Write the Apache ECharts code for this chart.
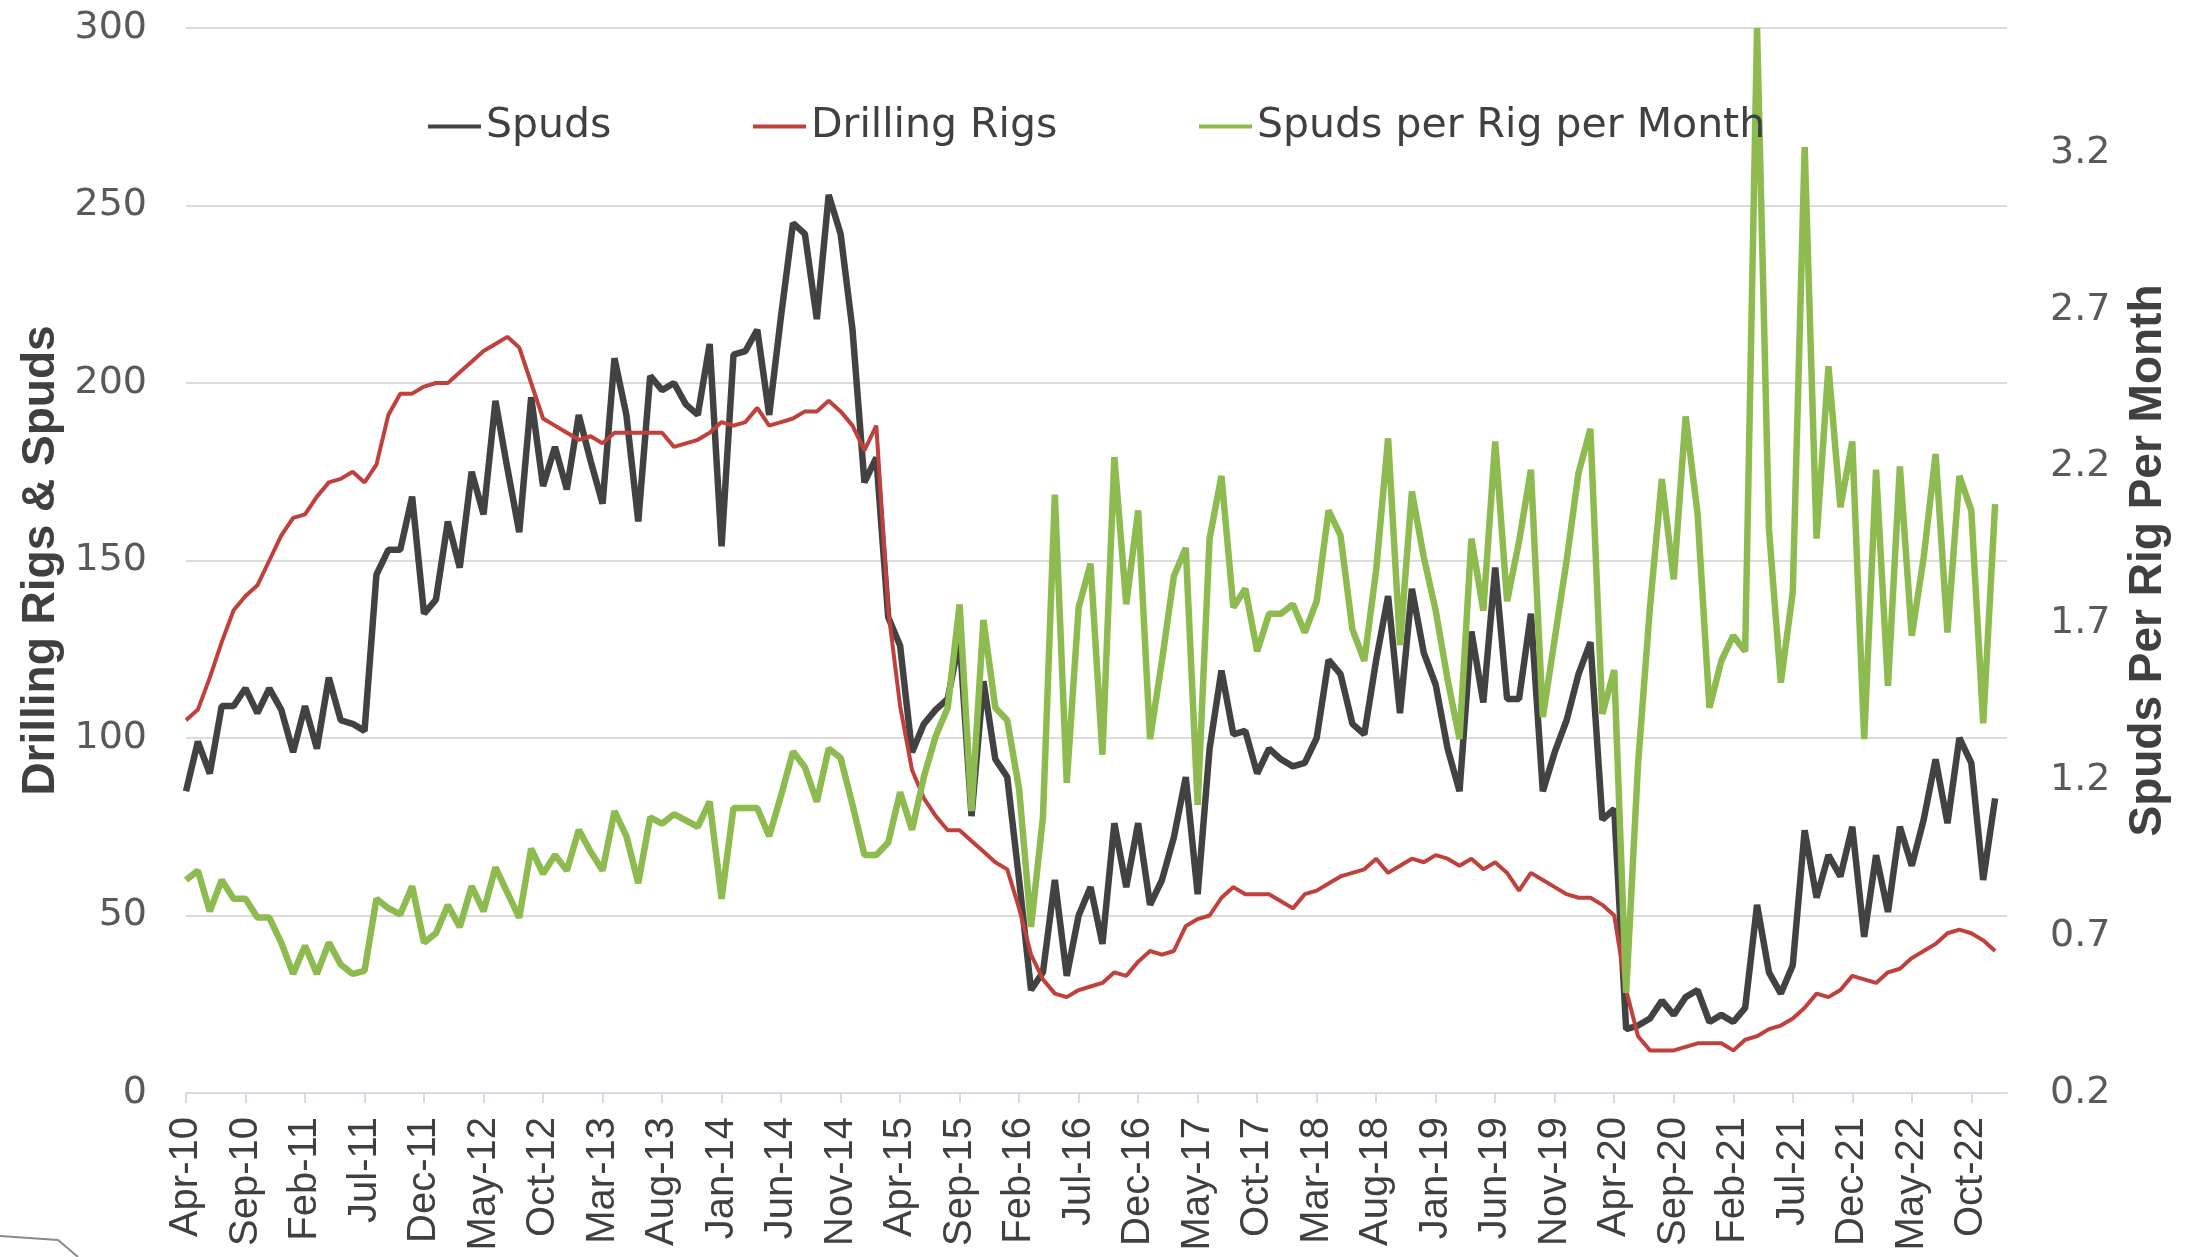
<!DOCTYPE html>
<html>
<head>
<meta charset="utf-8">
<script src="https://cdn.jsdelivr.net/npm/echarts@6/dist/echarts.min.js"></script>
<style>
  html, body { margin: 0; padding: 0; background: #fff; }
  #chart { width: 2198px; height: 1257px; }
</style>
</head>
<body>
<div id="chart"></div>
<script>
  // monthly labels, Apr-10 .. Jan-23 (Jan-23 has no data)
  const monthNames = ['Jan', 'Feb', 'Mar', 'Apr', 'May', 'Jun', 'Jul', 'Aug', 'Sep', 'Oct', 'Nov', 'Dec'];
  const categories = [];
  for (let y = 2010; y <= 2023; y++) {
    for (let m = 0; m < 12; m++) {
      if (y === 2010 && m < 3) continue;
      if (y === 2023 && m > 0) continue;
      categories.push(monthNames[m] + '-' + String(y).slice(2));
    }
  }

  const spuds = [
    85, 99, 90, 109, 109, 114, 107, 114, 108, 96,
    109, 97, 117, 105, 104, 102, 146, 153, 153, 168,
    135, 139, 161, 148, 175, 163, 195, 176, 158, 196,
    171, 182, 170, 191, 178, 166, 207, 191, 161, 202,
    198, 200, 194, 191, 211, 154, 208, 209, 215, 191,
    219, 245, 242, 218, 253, 242, 215, 172, 179, 134,
    126, 96, 104, 108, 111, 128, 78, 116, 94, 89,
    60, 29, 34, 60, 33, 50, 58, 42, 76, 58,
    76, 53, 60, 72, 89, 56, 97, 119, 101, 102,
    90, 97, 94, 92, 93, 100, 122, 118, 104, 101,
    122, 140, 107, 142, 124, 115, 97, 85, 130, 110,
    148, 111, 111, 135, 85, 96, 105, 118, 127, 77,
    80, 18, 19, 21, 26, 22, 27, 29, 20, 22,
    20, 24, 53, 34, 28, 36, 74, 55, 67, 61,
    75, 44, 67, 51, 75, 64, 77, 94, 76, 100,
    93, 60, 83, null
  ];

  const rigs = [
    105, 108, 117, 127, 136, 140, 143, 150, 157, 162,
    163, 168, 172, 173, 175, 172, 177, 191, 197, 197,
    199, 200, 200, 203, 206, 209, 211, 213, 210, 200,
    190, 188, 186, 184, 185, 183, 186, 186, 186, 186,
    186, 182, 183, 184, 186, 189, 188, 189, 193, 188,
    189, 190, 192, 192, 195, 192, 188, 181, 188, 136,
    109, 91, 83, 78, 74, 74, 71, 68, 65, 63,
    52, 39, 32, 28, 27, 29, 30, 31, 34, 33,
    37, 40, 39, 40, 47, 49, 50, 55, 58, 56,
    56, 56, 54, 52, 56, 57, 59, 61, 62, 63,
    66, 62, 64, 66, 65, 67, 66, 64, 66, 63,
    65, 62, 57, 62, 60, 58, 56, 55, 55, 53,
    50, 29, 16, 12, 12, 12, 13, 14, 14, 14,
    12, 15, 16, 18, 19, 21, 24, 28, 27, 29,
    33, 32, 31, 34, 35, 38, 40, 42, 45, 46,
    45, 43, 40, null
  ];

  const spudsPerRig = [
    0.88, 0.91, 0.78, 0.88, 0.82, 0.82, 0.76, 0.76, 0.68, 0.58,
    0.67, 0.58, 0.68, 0.61, 0.58, 0.59, 0.82, 0.79, 0.77, 0.86,
    0.68, 0.71, 0.80, 0.73, 0.86, 0.78, 0.92, 0.84, 0.76, 0.98,
    0.90, 0.96, 0.91, 1.04, 0.97, 0.91, 1.10, 1.02, 0.87, 1.08,
    1.06, 1.09, 1.07, 1.05, 1.13, 0.82, 1.11, 1.11, 1.11, 1.02,
    1.15, 1.29, 1.24, 1.13, 1.30, 1.27, 1.12, 0.96, 0.96, 1.00,
    1.16, 1.04, 1.21, 1.34, 1.43, 1.76, 1.10, 1.71, 1.43, 1.39,
    1.17, 0.73, 1.08, 2.11, 1.19, 1.75, 1.89, 1.28, 2.23, 1.76,
    2.06, 1.33, 1.58, 1.85, 1.94, 1.12, 1.97, 2.17, 1.75, 1.81,
    1.61, 1.73, 1.73, 1.76, 1.67, 1.77, 2.06, 1.98, 1.68, 1.58,
    1.87, 2.29, 1.63, 2.12, 1.91, 1.74, 1.52, 1.33, 1.97, 1.74,
    2.28, 1.77, 1.96, 2.19, 1.40, 1.65, 1.90, 2.18, 2.32, 1.41,
    1.55, 0.52, 1.25, 1.75, 2.16, 1.84, 2.36, 2.05, 1.43, 1.58,
    1.66, 1.61, 3.60, 2.00, 1.51, 1.80, 3.22, 1.97, 2.52, 2.07,
    2.28, 1.33, 2.19, 1.50, 2.20, 1.66, 1.91, 2.24, 1.67, 2.17,
    2.06, 1.38, 2.08, null
  ];

  const leftTicks = [0, 50, 100, 150, 200, 250, 300];
  const rightTicks = [0.2, 0.7, 1.2, 1.7, 2.2, 2.7, 3.2];

  const seriesNames = ['Spuds', 'Drilling Rigs', 'Spuds per Rig per Month'];
  const colors = ['#424242', '#c0403c', '#8dbb4f'];

  const tickFont = 'DejaVu Sans';
  const titleFont = 'Liberation Sans';

  const legendLeft = [428, 753, 1199];
  const legends = seriesNames.map((name, i) => ({
    data: [name],
    left: legendLeft[i],
    top: 106,
    padding: 0,
    icon: 'rect',
    itemWidth: 53,
    itemHeight: 4,
    textStyle: { color: '#404040', fontSize: 41, fontFamily: tickFont }
  }));

  const chart = echarts.init(document.getElementById('chart'));
  chart.setOption({
    animation: false,
    backgroundColor: '#ffffff',
    color: colors,
    legend: legends,
    grid: { left: 186, right: 191, top: 28, bottom: 164, outerBoundsMode: 'none' },
    xAxis: {
      type: 'category',
      data: categories,
      boundaryGap: false,
      axisLine: { lineStyle: { color: '#d6dce5', width: 2 } },
      axisTick: { interval: 4, length: 10, lineStyle: { color: '#d6dce5', width: 2 } },
      axisLabel: {
        interval: 4, rotate: 90, margin: 24,
        color: '#404040', fontSize: 40, fontFamily: titleFont
      },
      splitLine: { show: false }
    },
    yAxis: [
      {
        type: 'value', min: 0, max: 300, interval: 50,
        name: 'Drilling Rigs & Spuds',
        nameLocation: 'middle', nameRotate: 90, nameGap: 122, nameMoveOverlap: false,
        nameTextStyle: { color: '#404040', fontSize: 46, fontWeight: 'bold', fontFamily: titleFont },
        axisLine: { show: false },
        axisTick: { show: false },
        axisLabel: {
          margin: 39, color: '#595959', fontSize: 38, fontFamily: tickFont,
          formatter: v => leftTicks.includes(v) ? String(v) : ''
        },
        splitLine: { lineStyle: { color: '#dcdcdc', width: 2 } }
      },
      {
        type: 'value', position: 'right', min: 0.2, max: 3.6, interval: 0.5,
        name: 'Spuds Per Rig Per Month',
        nameLocation: 'middle', nameRotate: 90, nameGap: 118, nameMoveOverlap: false,
        nameTextStyle: { color: '#404040', fontSize: 46, fontWeight: 'bold', fontFamily: titleFont },
        axisLine: { show: false },
        axisTick: { show: false },
        axisLabel: {
          margin: 43, color: '#595959', fontSize: 38, fontFamily: tickFont,
          showMaxLabel: false,
          formatter: v => rightTicks.some(t => Math.abs(t - v) < 1e-6) ? v.toFixed(1) : ''
        },
        splitLine: { show: false }
      }
    ],
    graphic: [{
      type: 'polyline',
      shape: { points: [[0, 1236], [58, 1240], [78, 1257]] },
      style: { stroke: '#8a8a8a', lineWidth: 2, fill: null },
      silent: true
    }],
    series: [
      {
        name: seriesNames[0], type: 'line', data: spuds, yAxisIndex: 0,
        symbol: 'none', lineStyle: { width: 6.5, color: colors[0] }, itemStyle: { color: colors[0] }
      },
      {
        name: seriesNames[1], type: 'line', data: rigs, yAxisIndex: 0,
        symbol: 'none', lineStyle: { width: 4, color: colors[1] }, itemStyle: { color: colors[1] }
      },
      {
        name: seriesNames[2], type: 'line', data: spudsPerRig, yAxisIndex: 1,
        symbol: 'none', lineStyle: { width: 6.5, color: colors[2] }, itemStyle: { color: colors[2] }
      }
    ]
  });
</script>
</body>
</html>
